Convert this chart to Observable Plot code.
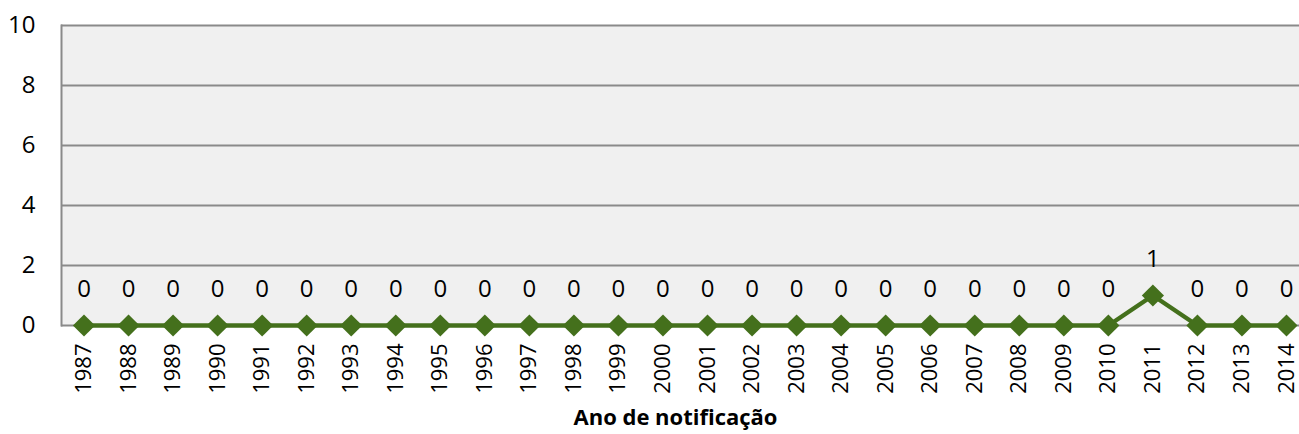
<!DOCTYPE html>
<html>
<head>
<meta charset="utf-8">
<script src="https://cdn.jsdelivr.net/npm/d3@7"></script>
<script src="https://cdn.jsdelivr.net/npm/@observablehq/plot@0.6"></script>
<style>
  html, body { margin: 0; padding: 0; background: #ffffff; }
  #chart { width: 1299px; height: 434px; overflow: hidden; }
</style>
</head>
<body>
<div id="chart"></div>
<script>
const years = [1987, 1988, 1989, 1990, 1991, 1992, 1993, 1994, 1995, 1996, 1997, 1998, 1999, 2000,
               2001, 2002, 2003, 2004, 2005, 2006, 2007, 2008, 2009, 2010, 2011, 2012, 2013, 2014];
const cases = [0, 0, 0, 0, 0, 0, 0, 0, 0, 0, 0, 0, 0, 0,
               0, 0, 0, 0, 0, 0, 0, 0, 0, 0, 1, 0, 0, 0];
const yTicks = [0, 2, 4, 6, 8, 10];
const xTitle = "Ano de notificação";

const data = years.map((y, i) => ({year: String(y), value: cases[i]}));

const green = "#44701c";
const gridColor = "#8a8a8a";
const font = "'Open Sans', 'Liberation Sans', sans-serif";

const chart = Plot.plot({
  width: 1299,
  height: 434,
  marginLeft: 61,
  marginRight: 0,
  marginTop: 25,
  marginBottom: 109,
  style: {fontFamily: font, fontSize: "22px", color: "#000", background: "#fff"},
  x: {type: "point", domain: years.map(String), range: [83.5, 1286], padding: 0, round: false},
  y: {domain: [0, 10], range: [325, 25]},
  marks: [
    Plot.frame({fill: "#f0f0f0", stroke: null}),
    Plot.ruleY(yTicks, {stroke: gridColor, strokeWidth: 2}),
    Plot.frame({anchor: "left", stroke: gridColor, strokeWidth: 2}),
    Plot.axisY({ticks: yTicks, tickSize: 0, tickPadding: 26, label: null, fontSize: 24}),
    Plot.axisX({tickSize: 0, tickRotate: -90, tickPadding: 18, label: null, fontSize: 22}),
    Plot.line(data, {x: "year", y: "value", stroke: green, strokeWidth: 4.5}),
    Plot.dot(data, {x: "year", y: "value", symbol: "diamond2", r: 10, fill: green, stroke: null}),
    Plot.text(data, {x: "year", y: "value", text: d => String(d.value), dy: -36, fontSize: 24, fill: "#000"}),
    Plot.text([xTitle], {frameAnchor: "bottom", dy: 99, dx: -5, fontSize: 22, fontWeight: "bold", fill: "#000"})
  ]
});
document.getElementById("chart").appendChild(chart);
</script>
</body>
</html>
